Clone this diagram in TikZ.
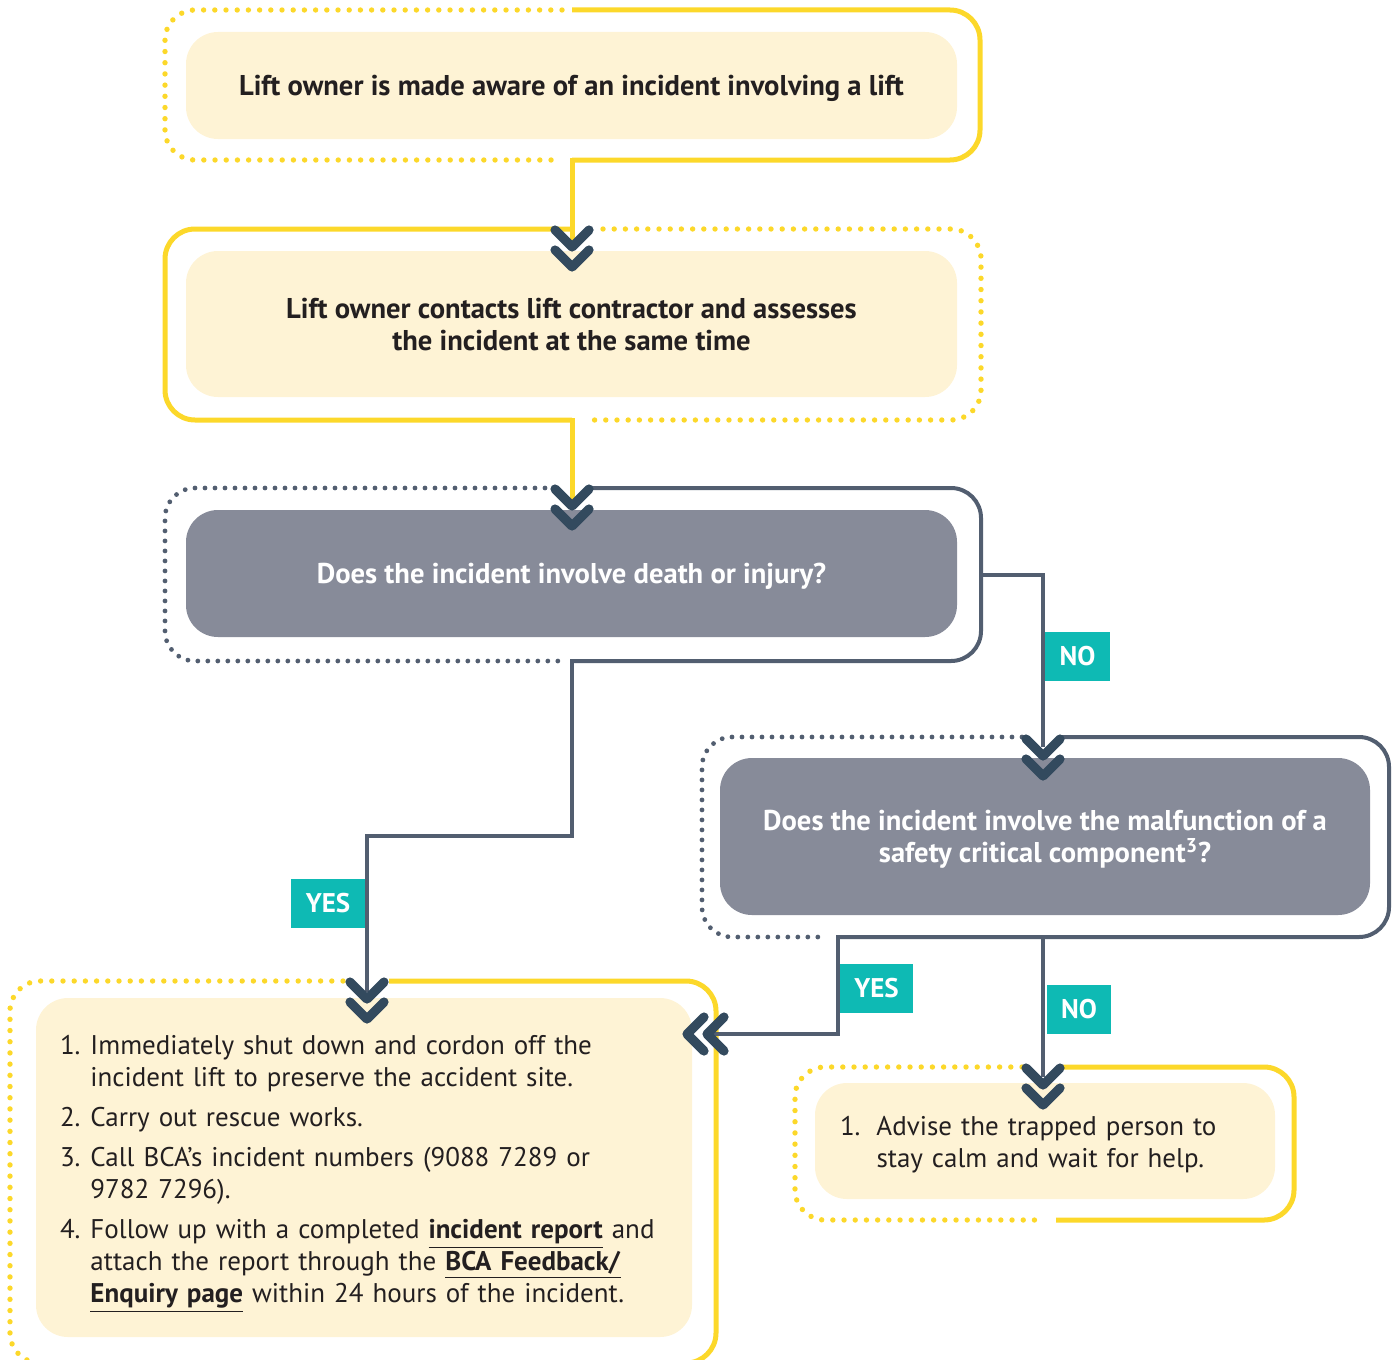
\documentclass[tikz,border=0pt]{standalone}
\usepackage{fontspec}
\setmainfont{PT Sans}
\definecolor{lyellow}{HTML}{FCD82A}
\definecolor{lcream}{HTML}{FEF3D5}
\definecolor{lgrey}{HTML}{878B99}
\definecolor{lslate}{HTML}{525E70}
\definecolor{lnavy}{HTML}{334A5E}
\definecolor{lteal}{HTML}{0EBAB4}
\definecolor{ltext}{HTML}{231F20}
\begin{document}
\begin{tikzpicture}[x=0.5pt,y=-0.5pt]\tikzstyle{every node}=[font=\fontsize{13.5}{16}\selectfont, text=ltext, inner sep=0pt]
\tikzstyle{infobox}=[fill=lcream, rounded corners=16pt, align=center, text depth=0pt, font=\fontsize{14.3}{16}\selectfont\bfseries]
\tikzstyle{askbox}=[fill=lgrey, rounded corners=16pt, align=center, text=white, text depth=0pt, font=\fontsize{14.3}{16}\selectfont\bfseries]
\tikzstyle{listbox}=[fill=lcream, rounded corners=16pt, align=left, inner xsep=12pt]
\tikzstyle{tag}=[fill=lteal, text=white, font=\fontsize{13.5}{16}\selectfont\bfseries, minimum height=24.5pt]
\tikzstyle{ydots}=[lyellow, line width=2.7pt, line cap=round, dash pattern=on 0pt off 5.6pt, rounded corners=15pt]
\tikzstyle{yline}=[lyellow, line width=2.5pt, rounded corners=15pt]
\tikzstyle{sdots}=[lslate, line width=2.4pt, line cap=round, dash pattern=on 0pt off 5pt, rounded corners=15pt]
\tikzstyle{sline}=[lslate, line width=2pt, rounded corners=15pt]
\tikzstyle{yconn}=[lyellow, line width=2.5pt, line cap=rect]
\tikzstyle{sconn}=[lslate, line width=2pt, line cap=rect]
\tikzstyle{chevs}=[lnavy, line width=4.6pt, line cap=round, line join=round]
\tikzset{chev/.pic={\draw[chevs] (-17,-8) -- (0,9) -- (17,-8) (-17,12) -- (0,29) -- (17,12);}}
\useasboundingbox (0,0) rectangle (1395,1359);
\clip (0,0) rectangle (1395,1359);
%%%%%%%%%%%%%
\node[infobox, minimum width=385.5pt, minimum height=53.5pt] (aware) at (571.5,85.5) {Lift owner is made aware of an incident involving a lift};
\node[infobox, minimum width=385.5pt, minimum height=73pt] (assess) at (571.5,324) {Lift owner contacts lift contractor and assesses\\the incident at the same time};
\node[askbox, minimum width=385.5pt, minimum height=63.5pt] (injury) at (571.5,573.5) {Does the incident involve death or injury?};
\node[askbox, minimum width=325pt, minimum height=78.5pt] (fault) at (1045,836.5) {Does the incident involve the malfunction of a\\safety critical component\textsuperscript{3}?};
\node[listbox, minimum width=328pt, minimum height=169.5pt, text width=304pt] (rescue) at (364,1167.5) {%
\begin{tabular}{@{}l@{\hspace{5pt}}l@{}}
\noalign{\vspace{5pt}}
1. & Immediately shut down and cordon off the\\
 & incident lift to preserve the accident site.\\[4pt]
2. & Carry out rescue works.\\[4pt]
3. & Call BCA's incident numbers (9088 7289 or\\
 & 9782 7296).\\[4pt]
4. & Follow up with a completed \underline{\textbf{incident report}} and\\
 & attach the report through the \underline{\textbf{BCA Feedback/}}\\
 & \underline{\textbf{Enquiry page}} within 24 hours of the incident.
\end{tabular}};
\node[listbox, minimum width=230pt, minimum height=58pt, text width=205pt] (calm) at (1045,1141) {%
\begin{tabular}{@{}l@{\hspace{8pt}}l@{}}
\noalign{\vspace{4pt}}
1. & Advise the trapped person to\\
 & stay calm and wait for help.
\end{tabular}};
%%%%%%%%%%%%%
\draw[ydots] (562,10) -- (165,10) -- (165,160) -- (560,160);
\draw[yline] (572,10) -- (980,10) -- (980,160) -- (572,160) coordinate (awareout);
\draw[yline] (572,229) -- (165,229) -- (165,420) -- (572,420) coordinate (assessout);
\draw[ydots] (603,229) -- (981,229) -- (981,420) -- (587,420);
\draw[sdots] (545,488) -- (165,488) -- (165,661) -- (558,661);
\draw[sline] (592,488) -- (981,488) -- (981,661) -- (572,661) coordinate (injuryyes);
\draw[sdots] (1022,737) -- (702,737) -- (702,937) -- (826,937);
\draw[sline] (1062,737) -- (1389,737) -- (1389,937) -- (838,937) coordinate (faultyes);
\draw[ydots] (343,981) -- (10,981) -- (10,1363) -- (330,1363);
\draw[yline] (389,981) -- (716,981) -- (716,1363) -- (400,1363);
\draw[ydots] (1022,1067) -- (795,1067) -- (795,1220) -- (1045,1220);
\draw[yline] (1063,1067) -- (1294,1067) -- (1294,1220) -- (1056,1220);
%%%%%%%%%%%%%
\coordinate (injuryno) at (981,575);
\coordinate (faultno) at (1043,937);
\draw[yconn] (awareout) -- (572,238);
\draw[yconn] (assessout) -- (572,497);
\draw[sconn] (injuryno) -| (1043,745);
\draw[sconn] (injuryyes) |- (367,836) -- (367,990);
\draw[sconn] (faultyes) |- (708,1034);
\draw[sconn] (faultno) -- (1043,1075);
%%%%%%%%%%%%%
\pic at (572,238) {chev};
\pic at (572,497) {chev};
\pic at (1043,747) {chev};
\pic at (367,990) {chev};
\pic at (1043,1076) {chev};
\pic[rotate=-90] at (716,1034) {chev};
%%%%%%%%%%%%%
\node[tag, minimum width=32.5pt] (no1) at (1077.5,656) {NO};
\node[tag, minimum width=37pt] (yes1) at (328,903) {YES};
\node[tag, minimum width=36.5pt] (yes2) at (876.5,988) {YES};
\node[tag, minimum width=32pt] (no2) at (1079,1009) {NO};
\end{tikzpicture}
\end{document}
